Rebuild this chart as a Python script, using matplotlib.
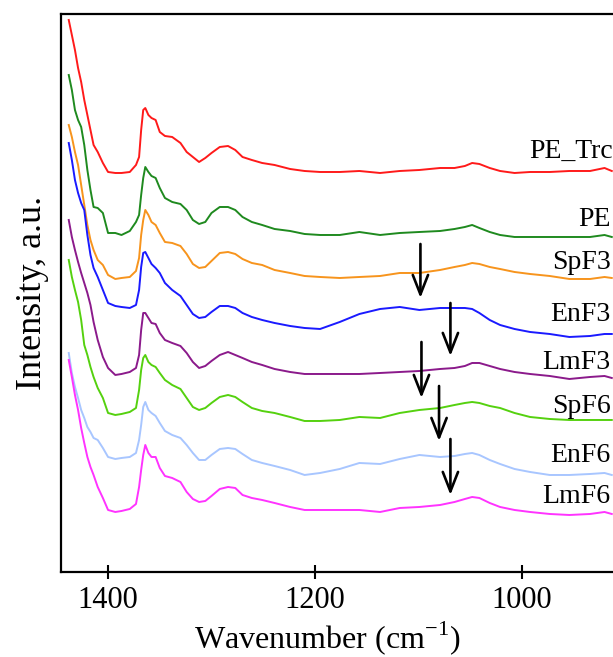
import matplotlib

matplotlib.use("Agg")

import matplotlib.pyplot as plt

plt.rcParams["font.family"] = ["Liberation Serif", "DejaVu Serif"]
plt.rcParams["mathtext.fontset"] = "custom"
plt.rcParams["mathtext.rm"] = "Liberation Serif"

# wavenumber grid (cm-1)
wavenumber = [1438, 1435, 1432, 1429, 1426, 1423, 1420, 1417, 1414, 1410, 1405, 1400,
              1393, 1387, 1379, 1373, 1370, 1368, 1366, 1364, 1361, 1358, 1354, 1350,
              1345, 1338, 1330, 1324, 1318, 1312, 1306, 1300, 1292, 1284, 1277, 1270,
              1261, 1251, 1239, 1224, 1210, 1195, 1176, 1157, 1137, 1118, 1099, 1079,
              1065, 1055, 1048, 1041, 1031, 1021, 1007, 992, 973, 954, 934, 920, 913]

# stacked intensities (a.u.), top to bottom
pe_trc = [5.52, 5.37, 5.22, 5.04, 4.90, 4.72, 4.57, 4.42, 4.27, 4.20, 4.09, 4.00,
          3.99, 3.99, 4.00, 4.07, 4.15, 4.42, 4.62, 4.64, 4.57, 4.54, 4.52, 4.40,
          4.36, 4.35, 4.29, 4.20, 4.15, 4.10, 4.14, 4.19, 4.25, 4.26, 4.22, 4.15,
          4.12, 4.09, 4.07, 4.03, 4.01, 4.00, 4.00, 4.01, 3.99, 4.01, 4.02, 4.04,
          4.04, 4.06, 4.09, 4.08, 4.04, 4.01, 3.99, 4.00, 4.00, 4.01, 4.01, 4.04, 4.01]
pe = [4.97, 4.82, 4.62, 4.52, 4.45, 4.27, 4.02, 3.82, 3.65, 3.64, 3.59, 3.39,
      3.39, 3.37, 3.41, 3.50, 3.57, 3.77, 3.94, 4.05, 4.00, 3.96, 3.94, 3.84,
      3.74, 3.70, 3.68, 3.62, 3.52, 3.48, 3.50, 3.59, 3.65, 3.65, 3.62, 3.55,
      3.50, 3.47, 3.43, 3.41, 3.38, 3.37, 3.37, 3.40, 3.37, 3.39, 3.40, 3.41,
      3.43, 3.45, 3.47, 3.44, 3.40, 3.37, 3.35, 3.35, 3.35, 3.35, 3.35, 3.37, 3.35]
spf3 = [4.47, 4.35, 4.20, 4.07, 3.87, 3.67, 3.47, 3.32, 3.22, 3.12, 3.07, 2.97,
        2.93, 2.94, 2.95, 3.01, 3.14, 3.37, 3.52, 3.62, 3.57, 3.50, 3.47, 3.39,
        3.30, 3.29, 3.26, 3.18, 3.08, 3.04, 3.05, 3.11, 3.19, 3.20, 3.18, 3.13,
        3.09, 3.07, 3.02, 2.99, 2.96, 2.95, 2.94, 2.95, 2.96, 2.99, 2.99, 3.02,
        3.05, 3.07, 3.09, 3.08, 3.05, 3.03, 3.00, 2.98, 2.96, 2.93, 2.93, 2.95, 2.94]
enf3 = [4.29, 4.12, 3.92, 3.79, 3.69, 3.62, 3.37, 3.17, 3.04, 2.95, 2.82, 2.69,
        2.66, 2.65, 2.64, 2.67, 2.82, 3.05, 3.19, 3.20, 3.14, 3.08, 3.04, 2.99,
        2.89, 2.82, 2.76, 2.67, 2.58, 2.54, 2.55, 2.60, 2.66, 2.66, 2.64, 2.59,
        2.55, 2.52, 2.49, 2.46, 2.44, 2.43, 2.50, 2.58, 2.63, 2.65, 2.62, 2.64,
        2.64, 2.64, 2.63, 2.59, 2.52, 2.47, 2.43, 2.40, 2.38, 2.35, 2.36, 2.38, 2.38]
lmf3 = [3.52, 3.35, 3.22, 3.10, 2.99, 2.89, 2.79, 2.67, 2.50, 2.32, 2.15, 2.04,
        1.97, 1.98, 2.00, 2.04, 2.17, 2.42, 2.59, 2.59, 2.54, 2.49, 2.48, 2.39,
        2.32, 2.29, 2.26, 2.19, 2.10, 2.04, 2.06, 2.11, 2.17, 2.20, 2.17, 2.14,
        2.10, 2.07, 2.03, 2.00, 1.98, 1.98, 1.98, 1.98, 1.99, 2.00, 2.01, 2.03,
        2.04, 2.06, 2.09, 2.09, 2.06, 2.03, 2.00, 1.98, 1.96, 1.93, 1.95, 1.96, 1.94]
spf6 = [3.12, 2.95, 2.82, 2.70, 2.52, 2.27, 2.17, 2.05, 1.95, 1.84, 1.74, 1.59,
        1.57, 1.58, 1.60, 1.64, 1.82, 2.02, 2.14, 2.17, 2.10, 2.07, 2.05, 1.99,
        1.92, 1.87, 1.83, 1.74, 1.65, 1.62, 1.64, 1.69, 1.75, 1.77, 1.75, 1.70,
        1.64, 1.61, 1.59, 1.55, 1.51, 1.51, 1.52, 1.55, 1.54, 1.59, 1.62, 1.64,
        1.67, 1.69, 1.70, 1.69, 1.66, 1.64, 1.59, 1.55, 1.53, 1.52, 1.52, 1.52, 1.52]
enf6 = [2.19, 1.99, 1.85, 1.74, 1.62, 1.54, 1.45, 1.40, 1.34, 1.32, 1.24, 1.15,
        1.13, 1.14, 1.15, 1.19, 1.32, 1.47, 1.65, 1.70, 1.62, 1.59, 1.56, 1.49,
        1.41, 1.37, 1.34, 1.27, 1.19, 1.12, 1.12, 1.17, 1.23, 1.24, 1.23, 1.18,
        1.12, 1.09, 1.06, 1.02, 0.97, 0.99, 1.03, 1.09, 1.08, 1.13, 1.17, 1.15,
        1.16, 1.18, 1.19, 1.17, 1.12, 1.08, 1.03, 1.00, 0.97, 0.97, 0.98, 0.99, 0.97]
lmf6 = [2.12, 1.95, 1.77, 1.62, 1.44, 1.29, 1.15, 1.05, 0.97, 0.85, 0.74, 0.62,
        0.60, 0.61, 0.63, 0.68, 0.85, 1.02, 1.17, 1.27, 1.19, 1.15, 1.15, 1.04,
        0.96, 0.94, 0.90, 0.80, 0.73, 0.70, 0.71, 0.76, 0.83, 0.85, 0.84, 0.77,
        0.74, 0.72, 0.69, 0.65, 0.62, 0.62, 0.62, 0.62, 0.60, 0.64, 0.65, 0.67,
        0.70, 0.73, 0.75, 0.74, 0.69, 0.65, 0.62, 0.60, 0.58, 0.57, 0.58, 0.60, 0.58]

names = ["PE_Trc", "PE", "SpF3", "EnF3", "LmF3", "SpF6", "EnF6", "LmF6"]
series = [pe_trc, pe, spf3, enf3, lmf3, spf6, enf6, lmf6]
colors = ["#ff1a1a", "#1f8a1f", "#f7941d", "#1a1aff", "#8b1a8b", "#55d10f", "#a8c6ff", "#ff33ff"]
label_x = [912, 914, 914, 914, 914, 914, 914, 914]
label_y = [4.21, 3.52, 3.09, 2.57, 2.09, 1.65, 1.16, 0.75]

# arrows: wavenumber, tail intensity, tip intensity
arrow_x = [1098, 1069, 1097, 1080, 1069]
arrow_top = [3.28, 2.69, 2.30, 1.86, 1.33]
arrow_tip = [2.74, 2.16, 1.74, 1.31, 0.77]

fig = plt.figure(figsize=(6.13, 6.57), dpi=100)
ax = fig.add_axes([0.0995, 0.1294, 0.912, 0.8493])

for name, y, c, lx, ly in zip(names, series, colors, label_x, label_y):
    ax.plot(wavenumber, y, color=c, linewidth=1.4)
    ax.text(lx, ly, name, ha="right", va="center", fontsize=20)

for x, y0, y1 in zip(arrow_x, arrow_top, arrow_tip):
    ax.annotate("", xy=(x, y1), xytext=(x, y0),
                arrowprops=dict(arrowstyle="->,head_length=1.4,head_width=0.55",
                                color="black", lw=1.9, shrinkA=0, shrinkB=0))

ax.set_xlim(1445.5, 905)
ax.set_ylim(0, 5.58)
ax.set_xticks([1400, 1200, 1000])
ax.set_yticks([])
ax.tick_params(axis="x", direction="inout", length=10, width=1.5, labelsize=22, pad=5)
for s in ax.spines.values():
    s.set_linewidth(1.6)

ax.set_xlabel("Wavenumber (cm$^{-1}$)", fontsize=23)
ax.xaxis.set_label_coords(0.476, -0.085)
ax.set_ylabel("Intensity, a.u.", fontsize=26)
ax.yaxis.set_label_coords(-0.022, 0.5)

fig.savefig("out.png", dpi=100)
